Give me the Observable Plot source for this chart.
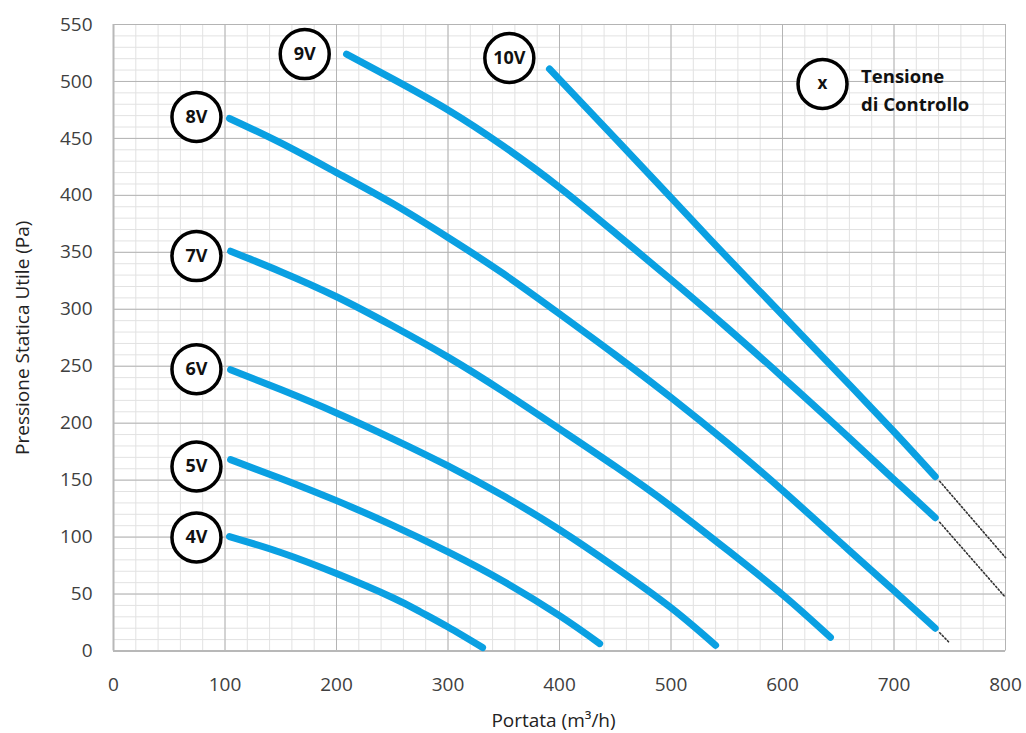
<!DOCTYPE html>
<html>
<head>
<meta charset="utf-8">
<script src="https://cdn.jsdelivr.net/npm/d3@7"></script>
<script src="https://cdn.jsdelivr.net/npm/@observablehq/plot@0.6"></script>
<style>
  html, body { margin: 0; padding: 0; background: white; }
</style>
</head>
<body>
<div id="chart"></div>
<script>
// ---- data ----
const xTicks = [0, 100, 200, 300, 400, 500, 600, 700, 800];
const yTicks = [0, 50, 100, 150, 200, 250, 300, 350, 400, 450, 500, 550];
const minorX = d3.range(0, 801, 20);
const minorY = d3.range(0, 551, 10);

const q4 = [104, 150, 200, 250, 275, 300, 331];
const p4 = [100.5, 86.5, 68, 47, 34.5, 21, 3];
const q5 = [105, 150, 200, 250, 300, 350, 400, 436];
const p5 = [168, 151.5, 132, 110.5, 87, 61, 31, 6.5];
const q6 = [105, 150, 200, 250, 300, 350, 400, 450, 500, 540];
const p6 = [247, 229.5, 209, 186.5, 162.5, 136, 106.5, 73.5, 38, 5];
const q7 = [105, 150, 200, 250, 300, 350, 400, 450, 500, 550, 600, 643];
const p7 = [351, 333, 311, 285.5, 258, 227.5, 195, 162, 127, 89, 49.5, 12];
const q8 = [104, 150, 200, 250, 300, 350, 400, 450, 500, 550, 600, 650, 700, 737];
const p8 = [467.5, 446, 420, 393, 363, 331, 296, 260, 222.5, 183, 141, 97, 53, 20];
const q9 = [209, 250, 300, 350, 400, 450, 500, 550, 600, 650, 700, 737];
const p9 = [524, 502.5, 475, 443, 407, 367, 326, 284, 240.5, 196, 150.5, 117];
const q10 = [391, 450, 500, 550, 600, 650, 700, 737];
const p10 = [511, 450, 398, 346, 295, 244, 192.5, 153];

const ext10q = [741, 800], ext10p = [149, 82];
const ext9q = [741, 800], ext9p = [113, 47];
const ext8q = [741, 749], ext8p = [16, 8];

const labelText = ["4V", "5V", "6V", "7V", "8V", "9V", "10V"];
const labelQ = [74.4, 74.4, 74.4, 74.4, 74.4, 171.5, 355];
const labelP = [99.7, 162, 247.4, 346.7, 468.8, 524, 520.6];

const legendMark = "x";
const legendQ = 635.9, legendP = 497.8;
const legendText = "Tensione\ndi Controllo";
const legendTextQ = 670.5, legendTextP = 494;

// ---- build tables ----
const curveSeries = [
  ["4V", q4, p4], ["5V", q5, p5], ["6V", q6, p6], ["7V", q7, p7],
  ["8V", q8, p8], ["9V", q9, p9], ["10V", q10, p10]
];
const curves = curveSeries.flatMap(([v, qs, ps]) => qs.map((q, i) => ({v, q, p: ps[i]})));
const extSeries = [["10V", ext10q, ext10p], ["9V", ext9q, ext9p], ["8V", ext8q, ext8p]];
const exts = extSeries.flatMap(([v, qs, ps]) => qs.map((q, i) => ({v, q, p: ps[i]})));
const labels = labelText.map((t, i) => ({t, q: labelQ[i], p: labelP[i]}));

const blue = "#0aa0e2";

const chart = Plot.plot({
  width: 1026,
  height: 733,
  marginLeft: 113,
  marginRight: 21,
  marginTop: 24,
  marginBottom: 82.5,
  x: {domain: [0, 800]},
  y: {domain: [0, 550]},
  style: {fontFamily: "'Open Sans', sans-serif", fontSize: "19px", background: "white", overflow: "visible"},
  marks: [
    Plot.ruleX(minorX, {stroke: "#e2e2e2", strokeWidth: 1}),
    Plot.ruleY(minorY, {stroke: "#e2e2e2", strokeWidth: 1}),
    Plot.ruleX(xTicks, {stroke: "#b4b4b4", strokeWidth: 1}),
    Plot.ruleY(yTicks, {stroke: "#b4b4b4", strokeWidth: 1}),
    Plot.ruleX([0], {stroke: "#b8b8b8", strokeWidth: 2}),
    Plot.ruleY([0], {stroke: "#b8b8b8", strokeWidth: 2}),
    Plot.axisX({ticks: xTicks, tickSize: 0, tickPadding: 26, fill: "#404040", fontSize: 19, label: null, tickFormat: d => String(d)}),
    Plot.axisY({ticks: yTicks, tickSize: 0, tickPadding: 21, fill: "#404040", fontSize: 19, label: null, tickFormat: d => String(d)}),
    Plot.text(["Portata (m³/h)"], {frameAnchor: "bottom", dy: 69.5, dx: -6, text: d => d, fontSize: 19, fill: "#222", textAnchor: "middle", lineAnchor: "middle"}),
    Plot.text(["Pressione Statica Utile (Pa)"], {frameAnchor: "left", dx: -91, rotate: -90, text: d => d, fontSize: 19, fill: "#222", textAnchor: "middle", lineAnchor: "middle"}),
    Plot.line(exts, {x: "q", y: "p", z: "v", stroke: "#333", strokeWidth: 1.6, strokeDasharray: "1.5,2.2"}),
    Plot.line(curves, {x: "q", y: "p", z: "v", stroke: blue, strokeWidth: 7, strokeLinecap: "round", strokeLinejoin: "round", curve: "natural"}),
    Plot.dot(labels, {x: "q", y: "p", r: 24.5, fill: "white", stroke: "black", strokeWidth: 3.5}),
    Plot.text(labels, {x: "q", y: "p", text: "t", fontSize: 18, fontWeight: "bold", fill: "#111"}),
    Plot.dot([legendMark], {x: () => legendQ, y: () => legendP, r: 24.5, fill: "white", stroke: "black", strokeWidth: 3.5}),
    Plot.text([legendMark], {x: () => legendQ, y: () => legendP, text: d => d, fontSize: 17, fontWeight: "bold", fill: "#111"}),
    Plot.text([legendText], {x: () => legendTextQ, y: () => legendTextP, text: d => d, textAnchor: "start", lineHeight: 1.47, fontSize: 18.5, fontWeight: "bold", fill: "#111"})
  ]
});
document.getElementById("chart").appendChild(chart);
</script>
</body>
</html>
